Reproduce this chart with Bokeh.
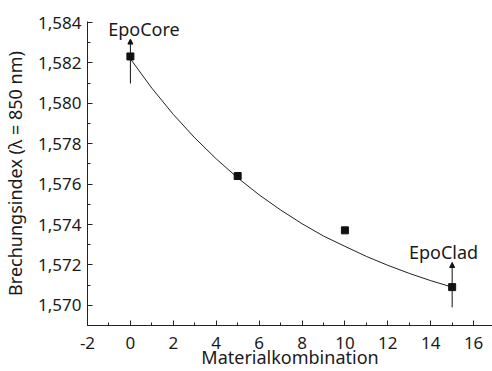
from bokeh.plotting import figure
from bokeh.models import FixedTicker, CustomJSTickFormatter, Arrow, NormalHead, ColumnDataSource
from bokeh.core.properties import value
from bokeh.embed import file_html
from bokeh.resources import INLINE

# measured data points
x_pts = [0, 5, 10, 15]
y_pts = [1.58232, 1.57640, 1.57371, 1.57090]

# fitted curve
x_fit = [0, 1, 2, 3, 4, 5, 6, 7, 8, 9, 10, 11, 12, 13, 14, 15]
y_fit = [1.58220, 1.58075, 1.57945, 1.57829, 1.57725, 1.57631, 1.57547, 1.57472,
         1.57404, 1.57343, 1.57292, 1.57242, 1.57198, 1.57158, 1.57122, 1.57090]

x_ticks = [-2, 0, 2, 4, 6, 8, 10, 12, 14, 16]
x_minor = [-1, 1, 3, 5, 7, 9, 11, 13, 15]
y_ticks = [1.570, 1.572, 1.574, 1.576, 1.578, 1.580, 1.582, 1.584]
y_minor = [1.569, 1.571, 1.573, 1.575, 1.577, 1.579, 1.581, 1.583]

# annotations
ann_labels = ["EpoCore", "EpoClad"]
ann_x = [0, 15]
ann_y0 = [1.58098, 1.56990]
ann_y1 = [1.58318, 1.57212]
lab_x = [0.63, 14.6]
lab_y = [1.58366, 1.57262]

x_title = "Materialkombination"
y_title = "Brechungsindex (λ = 850 nm)"

FONT = "Noto Sans"
INK = "#1a1a1a"

p = figure(width=492, height=371, output_backend="svg", toolbar_location=None,
           x_range=(-2, 16.88), y_range=(1.569, 1.58405),
           min_border_left=86, min_border_right=0, min_border_top=21, min_border_bottom=46)
p.outline_line_color = None
p.xgrid.visible = False
p.ygrid.visible = False

p.line(x_fit, y_fit, line_color="#222222", line_width=1)
p.scatter(x_pts, y_pts, marker="square", size=7, fill_color="#111111", line_color="#111111")

for xa, y0, y1 in zip(ann_x, ann_y0, ann_y1):
    p.add_layout(Arrow(end=NormalHead(size=5, fill_color="#111111", line_color="#111111", line_width=1),
                       x_start=xa, y_start=y0, x_end=xa, y_end=y1,
                       line_color="#111111", line_width=1))

src = ColumnDataSource(dict(x=lab_x, y=lab_y, t=ann_labels))
p.text(x="x", y="y", text="t", source=src, text_font=value(FONT), text_font_size="18px",
       text_align="center", text_baseline="alphabetic", text_color=INK)

for ax in (p.xaxis[0], p.yaxis[0]):
    ax.axis_line_color = "#222222"
    ax.major_tick_line_color = "#222222"
    ax.minor_tick_line_color = "#222222"
    ax.major_tick_in = 5
    ax.major_tick_out = 0
    ax.minor_tick_in = 3
    ax.minor_tick_out = 0
    ax.major_label_text_font = FONT
    ax.major_label_text_font_size = "17px"
    ax.major_label_text_color = INK
    ax.axis_label_text_font = FONT
    ax.axis_label_text_font_size = "18px"
    ax.axis_label_text_font_style = "normal"
    ax.axis_label_text_color = INK

p.xaxis.ticker = FixedTicker(ticks=x_ticks, minor_ticks=x_minor)
p.yaxis.ticker = FixedTicker(ticks=y_ticks, minor_ticks=y_minor)
p.yaxis.formatter = CustomJSTickFormatter(code="return tick.toFixed(3).replace('.', ',');")
p.xaxis.formatter = CustomJSTickFormatter(code="return tick.toFixed(0);")
p.xaxis.major_label_standoff = 11
p.yaxis.major_label_standoff = 6

p.yaxis.axis_label = y_title
p.yaxis.axis_label_standoff = 8
p.xaxis.axis_label = x_title
p.xaxis.axis_label_standoff = -7

open("out.html", "w").write(file_html(p, INLINE))
